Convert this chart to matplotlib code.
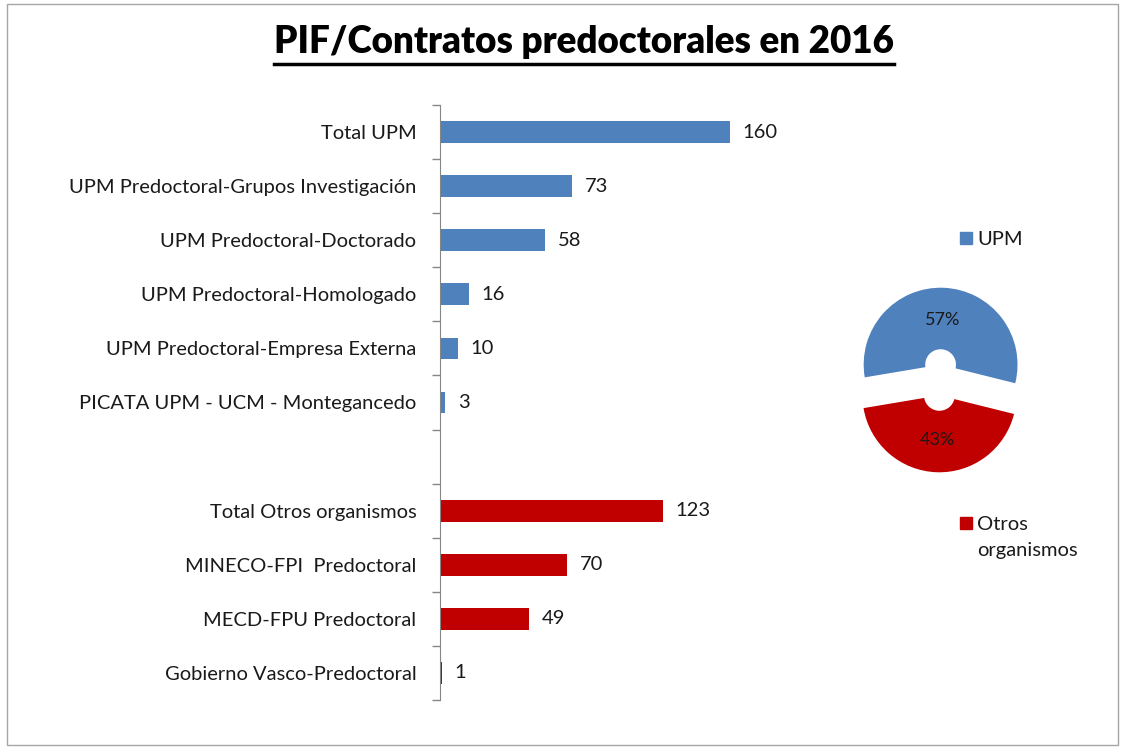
import matplotlib
matplotlib.use("Agg")
import matplotlib.pyplot as plt
from matplotlib.lines import Line2D
from matplotlib.patches import Rectangle

plt.rcParams["font.family"] = ["Lato", "DejaVu Sans"]

# Data
upm_labels = [
    "Total UPM",
    "UPM Predoctoral-Grupos Investigación",
    "UPM Predoctoral-Doctorado",
    "UPM Predoctoral-Homologado",
    "UPM Predoctoral-Empresa Externa",
    "PICATA UPM - UCM - Montegancedo",
]
upm_values = [160, 73, 58, 16, 10, 3]
otros_labels = [
    "Total Otros organismos",
    "MINECO-FPI  Predoctoral",
    "MECD-FPU Predoctoral",
    "Gobierno Vasco-Predoctoral",
]
otros_values = [123, 70, 49, 1]
pie_labels = ["UPM", "Otros\norganismos"]
pie_values = [upm_values[0], otros_values[0]]

BLUE = "#4F81BD"
RED = "#C00000"
TXT = "#1a1a1a"
W, H = 1125, 749

fig = plt.figure(figsize=(W / 100, H / 100), dpi=100)

# outer chart border
fig.patches.append(Rectangle((7 / W, 4 / H), 1111 / W, 741 / H, transform=fig.transFigure,
                             fill=False, edgecolor="#A6A6A6", linewidth=1))

# title with underline
title = fig.text(584 / W, 1 - 42 / H, "PIF/Contratos predoctorales en 2016", ha="center", va="center",
                 fontsize=26.5, fontweight="heavy")
fig.canvas.draw()
bb = title.get_window_extent()
fig.add_artist(Line2D([bb.x0 / W, bb.x1 / W], [(H - 64) / H] * 2, transform=fig.transFigure,
                      color="black", linewidth=2.5))

# bar chart
ax = fig.add_axes([440 / W, 49 / H, 326 / W, 595 / H])
n_upm = len(upm_labels)
pos_upm = list(range(n_upm))
pos_otros = [n_upm + 1 + i for i in range(len(otros_labels))]
ax.barh(pos_upm, upm_values, height=0.4, color=BLUE, linewidth=0)
ax.barh(pos_otros, otros_values, height=0.4, color=RED, linewidth=0)
for p, v in zip(pos_upm + pos_otros, upm_values + otros_values):
    ax.text(v + 7, p, str(v), va="center", ha="left", fontsize=14.5, color=TXT)

n_rows = n_upm + 1 + len(otros_labels)
ax.set_xlim(0, 180)
ax.set_ylim(n_rows - 0.5, -0.5)
ax.set_yticks(pos_upm + pos_otros)
ax.set_yticklabels(upm_labels + otros_labels, fontsize=14.5, color=TXT)
ax.set_yticks([i - 0.5 for i in range(n_rows + 1)], minor=True)
ax.tick_params(axis="y", which="major", length=0, pad=17)
ax.tick_params(axis="y", which="minor", length=6, color="#868686", width=1)
ax.set_xticks([])
for s in ["top", "right", "bottom"]:
    ax.spines[s].set_visible(False)
ax.spines["left"].set_color("#868686")

# exploded donut pie
pax = fig.add_axes([(940 - 100) / W, (H - 380 - 100) / H, 200 / W, 200 / H])
wedges, texts, autotexts = pax.pie(
    pie_values, colors=[BLUE, RED], startangle=-14, counterclock=True,
    explode=[0.2, 0.2], radius=1, autopct="%1.0f%%", pctdistance=0.58,
    wedgeprops=dict(width=0.8, edgecolor="white", linewidth=0),
    textprops=dict(fontsize=13, color=TXT),
)
pax.set_xlim(-1.3, 1.3)
pax.set_ylim(-1.3, 1.3)
pax.set_aspect("equal")
pax.axis("off")

# legend entries placed like the reference
for color, label, y in zip([BLUE, RED], pie_labels, [238, 523]):
    fig.patches.append(Rectangle((960 / W, (H - y - 6) / H), 12 / W, 12 / H,
                                 transform=fig.transFigure, color=color))
    fig.text(977 / W, (H - y + 7) / H, label, ha="left", va="top", fontsize=14.5,
             color=TXT, linespacing=1.65)

fig.savefig("out.png", dpi=100)
